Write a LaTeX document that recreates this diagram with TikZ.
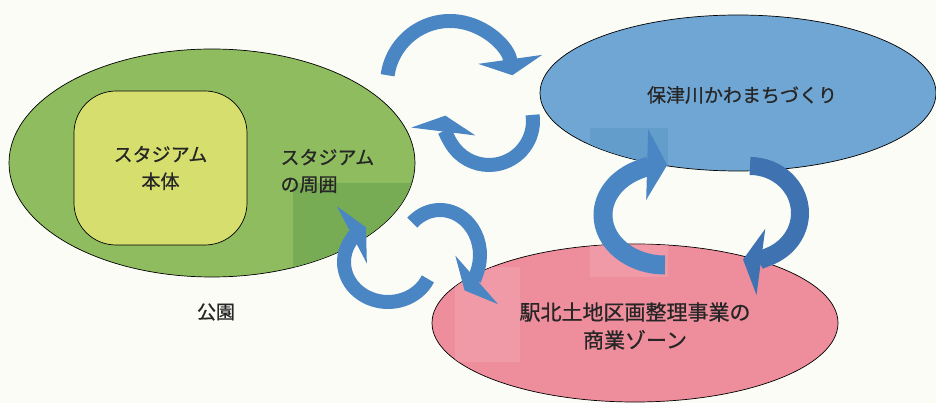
\documentclass[tikz,border=0pt]{standalone}
\usepackage{fontspec}
\newfontfamily\jpfont{Noto Sans CJK JP}[FakeBold=0.7]
\usetikzlibrary{shapes.geometric,arrows.meta,calc}

\definecolor{paper}{HTML}{FCFCF6}
\definecolor{parkgreen}{HTML}{8EBC5E}
\definecolor{parkdark}{HTML}{78AC54}
\definecolor{stadyellow}{HTML}{D6DF6E}
\definecolor{riverblue}{HTML}{70A6D3}
\definecolor{riverdark}{HTML}{639DCC}
\definecolor{shoppink}{HTML}{EE8D9C}
\definecolor{shoplight}{HTML}{F09AA7}
\definecolor{arrowblue}{HTML}{4A85C4}
\definecolor{arrowdark}{HTML}{3F72B1}
\definecolor{ink}{HTML}{262626}

\tikzset{
  zone/.style={ellipse, draw=black, line width=0.7pt, inner sep=0pt},
  words/.style={text=ink, align=center, font=\jpfont\fontsize{19}{27}\selectfont},
  cyc/.style={draw=arrowblue, line width=14pt, -{Triangle[width=64pt,length=16pt]}}
}

\begin{document}
\begin{tikzpicture}[x=1pt, y=-1pt]
    \useasboundingbox[fill=paper] (0,0) rectangle (936,403);

    % the three areas
    \node[zone, fill=parkgreen, minimum width=406pt, minimum height=228pt] (park) at (212,163) {};
    \node[zone, fill=riverblue, minimum width=396pt, minimum height=156pt] (river) at (738,93) {};
    \node[zone, fill=shoppink, minimum width=406pt, minimum height=158pt] (shop) at (635,323) {};

    % scan patches
    \begin{scope}
        \clip (park.center) ellipse [x radius=202.5, y radius=113.5];
        \fill[parkdark] (293,183) rectangle (420,280);
    \end{scope}
    \begin{scope}
        \clip (river.center) ellipse [x radius=197.5, y radius=77.5];
        \fill[riverdark] (590,128) rectangle (668,175);
    \end{scope}
    \begin{scope}
        \clip (shop.center) ellipse [x radius=202.5, y radius=78.5];
        \fill[shoplight] (455,267) rectangle (520,362);
        \fill[shoplight] (590,240) rectangle (668,277);
    \end{scope}

    \node[draw=black, line width=0.7pt, fill=stadyellow, rounded corners=42pt,
          minimum width=173pt, minimum height=154pt, words] (stadium) at (160.5,168)
          {スタジアム\\本体};
    \node[words, anchor=west, align=left] (around) at (277,171) {スタジアム\\の周囲};
    \node[words] (parkname) at (216,312) {公園};
    \node[words] (rivername) at ($(river)+(4,2)$) {保津川かわまちづくり};
    \node[words, font=\jpfont\fontsize{21}{28}\selectfont] (shopname) at ($(shop)+(0,3)$)
          {駅北土地区画整理事業の\\商業ゾーン};

    % circular arrows
    \coordinate (upA) at (450,84);
    \coordinate (upB) at (489,121);
    \coordinate (lowA) at (440,255);
    \coordinate (lowB) at (388,262);
    \coordinate (sideA) at (665,215);
    \coordinate (sideB) at (750,213);

    \draw[cyc] ($(upA)+(188:63)$) arc[start angle=188, end angle=352, radius=63];
    \draw[cyc] ($(upB)+(-8:44)$) arc[start angle=-8, end angle=187, radius=44];
    \draw[cyc] ($(lowA)+(226:40 and 45)$) arc[start angle=226, end angle=412, x radius=40, y radius=45];
    \draw[cyc] ($(lowB)+(25:44 and 40)$) arc[start angle=25, end angle=240, x radius=44, y radius=40];
    \draw[cyc, line width=19pt, -{Triangle[width=70pt,length=20pt]}]
        ($(sideA)+(90:62 and 50)$) arc[start angle=90, end angle=272, x radius=62, y radius=50];
    \draw[cyc, draw=arrowdark, line width=18pt, -{Triangle[width=66pt,length=18pt]}]
        ($(sideB)+(270:50 and 47)$) arc[start angle=270, end angle=458, x radius=50, y radius=47];
\end{tikzpicture}
\end{document}
